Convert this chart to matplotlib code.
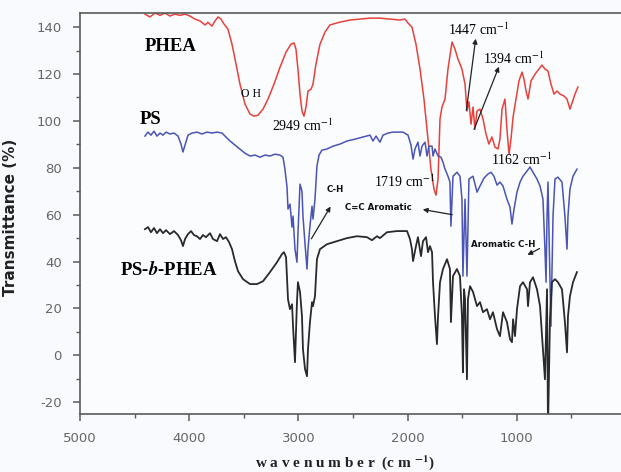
import matplotlib
matplotlib.use("Agg")
import matplotlib.pyplot as plt

# ---- data (wavenumber in cm-1, transmittance in %) ----
phea_wn = [4405, 4359, 4313, 4267, 4222, 4176, 4130, 4084, 4038, 3993, 3947, 3901, 3855, 3828,
           3791, 3764, 3736, 3709, 3681, 3645, 3608, 3571, 3535, 3489, 3443, 3407, 3370, 3324,
           3278, 3223, 3168, 3113, 3068, 3040, 3022, 3004, 2985, 2967, 2949, 2930, 2912, 2884,
           2866, 2839, 2802, 2756, 2711, 2619, 2527, 2436, 2344, 2253, 2161, 2069, 2024, 1996,
           1960, 1923, 1886, 1850, 1813, 1786, 1758, 1740, 1721, 1703, 1685, 1657, 1630, 1593,
           1566, 1538, 1502, 1474, 1456, 1438, 1419, 1401, 1383, 1364, 1337, 1309, 1282, 1255,
           1227, 1200, 1172, 1154, 1135, 1108, 1090, 1071, 1053, 1034, 1007, 980, 952, 934,
           915, 897, 870, 833, 797, 769, 742, 714, 687, 659, 632, 604, 568, 540, 513, 494,
           467, 440]
phea_t = [145.5, 144.3, 146.0, 145.0, 146.0, 144.7, 145.5, 145.0, 145.5, 144.7, 143.4, 142.6, 140.9,
          142.0, 140.4, 142.6, 144.3, 143.4, 141.3, 139.1, 132.7, 124.2, 115.7, 107.2, 102.9, 102.0,
          102.4, 105.0, 109.3, 115.7, 122.9, 129.3, 132.7, 133.2, 130.6, 122.1, 111.4, 104.2, 102.0,
          105.9, 112.7, 113.5, 115.7, 124.2, 132.7, 137.9, 140.9, 142.1, 143.0, 143.4, 143.8, 143.8,
          143.4, 143.0, 143.4, 141.7, 140.0, 132.7, 122.1, 109.3, 92.2, 79.4, 70.9, 68.3, 75.2,
          100.8, 105.9, 109.3, 122.1, 133.6, 130.6, 126.3, 122.1, 115.7, 104.2, 108.1, 98.6, 105.9,
          96.5, 104.2, 105.0, 100.8, 94.4, 90.1, 93.1, 88.8, 88.0, 92.2, 105.0, 109.3, 96.5, 85.8,
          92.2, 101.6, 109.3, 117.0, 120.8, 117.8, 112.7, 109.3, 117.0, 119.9, 122.1, 123.8, 122.1,
          121.2, 115.7, 111.4, 112.7, 111.4, 110.6, 109.3, 105.0, 107.6, 111.4, 114.4]

ps_wn = [4405, 4377, 4350, 4322, 4295, 4267, 4240, 4212, 4176, 4139, 4102, 4075, 4057, 4038, 4011,
         3974, 3929, 3883, 3837, 3791, 3745, 3700, 3663, 3626, 3581, 3535, 3489, 3443, 3397, 3352,
         3306, 3260, 3214, 3168, 3141, 3123, 3104, 3095, 3077, 3058, 3049, 3031, 3013, 3004, 2985,
         2967, 2958, 2939, 2921, 2912, 2894, 2875, 2866, 2848, 2830, 2811, 2784, 2738, 2683, 2619,
         2555, 2482, 2408, 2344, 2317, 2289, 2253, 2225, 2179, 2134, 2088, 2042, 1996, 1969, 1950,
         1932, 1905, 1886, 1868, 1840, 1822, 1804, 1776, 1767, 1749, 1721, 1694, 1676, 1657, 1630,
         1612, 1603, 1584, 1548, 1520, 1502, 1493, 1474, 1456, 1438, 1401, 1364, 1337, 1300, 1264,
         1236, 1209, 1181, 1154, 1126, 1090, 1062, 1044, 1025, 998, 970, 943, 906, 879, 851, 815,
         787, 760, 742, 732, 723, 714, 705, 687, 668, 650, 623, 586, 559, 540, 531, 513, 485, 449]
ps_t = [93.5, 95.2, 93.9, 95.6, 93.5, 94.8, 93.9, 95.2, 94.4, 94.8, 93.5, 90.1, 86.7, 89.7, 93.9,
        94.8, 95.2, 94.4, 95.2, 94.8, 95.2, 94.8, 93.1, 91.4, 89.7, 88.0, 86.2, 85.0, 85.4, 84.5,
        85.4, 85.0, 85.8, 85.4, 84.5, 79.4, 71.7, 62.4, 64.5, 54.7, 59.4, 45.3, 39.7, 51.7, 73.0,
        70.0, 59.4, 47.4, 36.8, 45.3, 55.1, 63.6, 58.1, 66.6, 80.7, 85.4, 87.5, 88.0, 89.2, 90.1,
        91.4, 92.2, 93.1, 93.9, 91.4, 93.5, 90.9, 93.9, 94.8, 95.2, 95.2, 95.2, 93.9, 89.7, 83.7,
        88.0, 90.9, 85.0, 89.2, 90.9, 85.0, 89.2, 89.2, 85.0, 88.0, 85.0, 84.5, 82.4, 79.4, 76.4,
        73.9, 55.1, 76.4, 78.1, 76.4, 66.6, 33.8, 66.6, 33.8, 75.2, 76.4, 69.6, 72.2, 75.6, 77.3,
        78.1, 76.4, 72.6, 73.9, 72.2, 66.6, 63.2, 56.0, 62.4, 69.6, 73.9, 76.4, 78.6, 80.3, 78.1,
        75.2, 72.2, 66.6, 45.3, 31.2, 59.4, 73.9, 52.5, 12.4, 59.4, 75.2, 76.0, 73.9, 59.4, 45.3,
        59.4, 70.9, 76.4, 79.4]

block_wn = [4405, 4377, 4350, 4322, 4295, 4267, 4240, 4212, 4176, 4139, 4102, 4075, 4057, 4038,
            4011, 3983, 3956, 3929, 3901, 3874, 3846, 3809, 3782, 3745, 3718, 3690, 3663, 3635,
            3608, 3581, 3553, 3507, 3443, 3379, 3324, 3260, 3196, 3150, 3132, 3113, 3095, 3077,
            3058, 3049, 3031, 3013, 3004, 2985, 2967, 2958, 2939, 2921, 2912, 2894, 2875, 2866,
            2848, 2830, 2802, 2738, 2646, 2555, 2463, 2372, 2326, 2280, 2253, 2189, 2097, 2005,
            1978, 1960, 1950, 1923, 1905, 1877, 1859, 1831, 1813, 1795, 1776, 1767, 1749, 1731,
            1721, 1703, 1676, 1639, 1612, 1603, 1584, 1548, 1520, 1502, 1493, 1483, 1474, 1456,
            1447, 1428, 1401, 1364, 1337, 1309, 1273, 1245, 1218, 1181, 1154, 1126, 1090, 1062,
            1044, 1034, 1016, 998, 970, 943, 906, 897, 879, 851, 815, 787, 760, 742, 723, 714,
            696, 678, 650, 623, 586, 559, 540, 531, 513, 485, 449]
block_t = [53.8, 54.7, 52.5, 54.3, 52.1, 53.8, 52.1, 53.4, 51.7, 53.0, 51.3, 49.1, 46.6, 49.6,
           51.7, 53.0, 51.3, 50.8, 49.6, 51.3, 50.4, 52.1, 49.6, 48.7, 51.7, 49.6, 50.4, 48.3,
           45.3, 40.2, 35.9, 32.5, 30.4, 30.4, 31.6, 35.5, 39.7, 43.2, 44.0, 41.9, 23.9, 19.7,
           21.8, 12.4, -2.9, 22.7, 31.2, 27.1, 16.7, 2.6, -5.9, -8.9, 2.6, 14.2, 22.7, 21.0,
           25.2, 41.0, 45.3, 47.4, 48.7, 50.0, 50.8, 50.4, 49.1, 50.8, 50.0, 52.5, 53.0, 53.0,
           49.6, 45.3, 40.2, 46.6, 50.4, 42.3, 48.7, 50.4, 44.0, 46.6, 44.0, 31.2, 16.7, 4.8,
           16.7, 31.2, 36.8, 41.0, 36.8, 14.2, 33.8, 36.8, 33.8, 16.7, -7.2, 28.2, 24.0, -10.2,
           24.0, 29.5, 27.1, 21.0, 22.7, 18.4, 19.7, 15.4, 18.4, 11.2, 8.2, 18.4, 14.2, 6.9,
           5.6, 15.4, 8.2, 19.7, 29.5, 31.2, 28.2, 21.0, 31.2, 33.3, 28.2, 21.0, 2.6, -10.2,
           28.2, -32.0, 15.4, 31.2, 32.5, 31.2, 28.2, 14.2, 1.3, 16.7, 25.2, 31.2, 35.5]

yticks = [-20, 0, 20, 40, 60, 80, 100, 120, 140]
xticks = [5000, 4000, 3000, 2000, 1000]

plt.rcParams['axes.unicode_minus'] = False
plt.rcParams['mathtext.fontset'] = 'stix'

fig = plt.figure(figsize=(6.21, 4.72), dpi=100, facecolor='#f9fafd')
ax = fig.add_axes([0.1288, 0.1229, 0.8792, 0.8496])
ax.set_facecolor('#fbfcfe')

ax.plot(phea_wn, phea_t, color='#e8413c', lw=1.1)
ax.plot(ps_wn, ps_t, color='#4a54b4', lw=1.1)
ax.plot(block_wn, block_t, color='#2a2a2a', lw=1.3)

ax.set_xlim(5000, 0)
ax.set_ylim(-25, 146)
ax.set_xticks(xticks)
ax.set_yticks(yticks)
ax.set_xticks(range(4500, 0, -1000), minor=True)
ax.set_yticks(range(-10, 146, 20), minor=True)

gray = '#5a5a5a'
for s in ax.spines.values():
    s.set_color(gray)
    s.set_linewidth(1.2)
ax.tick_params(which='both', direction='out', colors=gray, labelcolor='#666666', labelsize=9.5)
ax.tick_params(which='major', length=5, width=1.1)
ax.tick_params(which='minor', length=3, width=1.0)
ax.tick_params(axis='x', pad=8)
ax.tick_params(axis='y', pad=8)

ax.set_ylabel('Transmittance (%)', fontsize=11, fontweight='bold', color='#222222')
ax.yaxis.set_label_coords(-0.113, 0.49)
ax.set_xlabel('w a v e n u m b e r  (c m $^{\\mathbf{-1}}$)', fontsize=11, fontweight='bold',
              family='Liberation Serif', color='#222222', va='center')
ax.xaxis.set_label_coords(0.485, -0.122)

serif = 'Liberation Serif'
ax.text(4405, 131.9, 'PHEA', fontsize=13.5, fontweight='bold', family=serif, va='center')
ax.text(4450, 100.7, 'PS', fontsize=13.5, fontweight='bold', family=serif, va='center')
ax.text(4634, 36.8, 'PS-$\\mathbfit{b}$-PHEA', fontsize=13.5, fontweight='bold', family=serif,
        va='center')
ax.text(3530, 111.5, 'O H', fontsize=8.5, family=serif, va='center')

cm = ' cm$^{-1}$'
ax.text(3242, 97.8, '2949' + cm, fontsize=10, family=serif, va='center')
ax.text(1630, 139.0, '1447' + cm, fontsize=10, family=serif, va='center')
ax.text(1309, 126.3, '1394' + cm, fontsize=10, family=serif, va='center')
ax.text(1236, 83.3, '1162' + cm, fontsize=10, family=serif, va='center')
ax.text(2307, 73.9, '1719' + cm, fontsize=10, family=serif, va='center')

small = dict(fontsize=6.2, fontweight='bold', va='center', color='#111111')
ax.text(2738, 70.9, 'C-H', **small)
ax.text(2573, 63.2, 'C=C Aromatic', **small)
ax.text(1419, 47.4, 'Aromatic C-H', **small)

arrow = dict(arrowstyle='-|>', color='#222222', lw=0.9, mutation_scale=7)
ax.annotate('', xy=(1373, 136.2), xytext=(1465, 103.3), arrowprops=arrow)
ax.annotate('', xy=(1154, 124.2), xytext=(1401, 95.2), arrowprops=arrow)
ax.annotate('', xy=(2692, 64.5), xytext=(2894, 48.7), arrowprops=arrow)
ax.annotate('', xy=(1886, 62.4), xytext=(1566, 59.8), arrowprops=arrow)
ax.annotate('', xy=(925, 42.3), xytext=(769, 46.1), arrowprops=arrow)

fig.savefig('out.png', dpi=100, facecolor=fig.get_facecolor())
